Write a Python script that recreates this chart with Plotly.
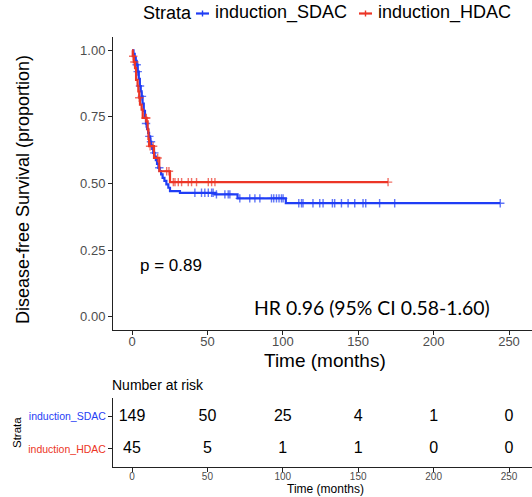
import numpy as np
import plotly.graph_objects as go

# ---------------- data ----------------
strata = ["induction_SDAC", "induction_HDAC"]
colors = ["#1F3DF5", "#EC3526"]

sdac_time = [0, 1.0, 1.8, 2.5, 3.1, 3.8, 4.5, 5.2, 5.8, 6.4, 7.0, 7.8, 8.6, 9.3, 10.0,
             10.7, 11.3, 12.0, 12.7, 13.4, 14.1, 15.0, 15.8, 16.6, 17.5, 18.4, 19.3,
             20.3, 21.5, 22.8, 24.1, 25.2, 31.8, 55.0, 70.0, 102.0]
sdac_surv = [1.0, 0.987, 0.973, 0.960, 0.946, 0.920, 0.893, 0.866, 0.846, 0.827, 0.800,
             0.773, 0.746, 0.725, 0.705, 0.690, 0.677, 0.657, 0.643, 0.630, 0.615, 0.601,
             0.588, 0.574, 0.559, 0.547, 0.534, 0.521, 0.510, 0.497, 0.484, 0.471, 0.465,
             0.459, 0.444, 0.426]
sdac_censor = [3.1, 3.8, 5.3, 6.6, 9.3, 11.5, 12.6, 14.8, 18.1,
               41.7, 46.1, 48.3, 50.6, 52.8, 53.8, 56.0, 61.6, 63.8, 64.9, 71.5, 78.1,
               81.5, 84.8, 92.5, 94.0, 95.8, 97.5, 99.1, 100.2, 110.6, 112.4, 113.4,
               120.0, 124.5, 126.7, 132.9, 134.4, 138.9, 143.3, 147.7, 153.2, 155.0,
               164.2, 174.2, 244.2]

hdac_time = [0, 0.5, 1.2, 2.0, 2.7, 3.7, 4.2, 4.8, 5.3, 6.4, 7.1, 9.7, 10.4, 10.9,
             11.3, 14.6, 18.1, 25.2]
hdac_surv = [1.0, 0.978, 0.956, 0.933, 0.889, 0.867, 0.846, 0.822, 0.796, 0.777,
             0.746, 0.733, 0.702, 0.667, 0.640, 0.596, 0.546, 0.505]
hdac_censor = [0.8, 1.6, 4.8, 9.0, 9.5, 12.0, 14.0, 17.0, 23.0, 24.5, 27.4, 28.5,
               30.7, 32.9, 37.3, 39.5, 42.8, 50.6, 52.8, 55.0, 169.8]

risk_times = [0, 50, 100, 150, 200, 250]
risk_sdac = [149, 50, 25, 4, 1, 0]
risk_hdac = [45, 5, 1, 1, 0, 0]

x_ticks = [0, 50, 100, 150, 200, 250]
y_ticks = [0.0, 0.25, 0.50, 0.75, 1.0]
y_ticklabels = ["0.00", "0.25", "0.50", "0.75", "1.00"]

legend_title = "Strata"
p_text = "p = 0.89"
hr_text = "HR 0.96 (95% CI 0.58-1.60)"

# ---------------- layout helpers ----------------
W, H = 532, 497
FONT = "Liberation Sans, Arial, sans-serif"


def px_x(p):
    return p / W


def px_y(p):
    return 1 - p / H


def build(times, surv, cens):
    times = np.asarray(times, float)
    surv = np.asarray(surv, float)
    pts = [(t, s, 0) for t, s in zip(times, surv)]
    for c in cens:
        idx = np.searchsorted(times, c, side="right") - 1
        pts.append((c, surv[idx], 1))
    pts.sort(key=lambda p: (p[0], p[2]))
    xs = [p[0] for p in pts]
    ys = [p[1] for p in pts]
    sz = [6 if p[2] else 0 for p in pts]
    return xs, ys, sz


fig = go.Figure()

for name, col, t, s, c in [
    (strata[0], colors[0], sdac_time, sdac_surv, sdac_censor),
    (strata[1], colors[1], hdac_time, hdac_surv, hdac_censor),
]:
    xs, ys, sz = build(t, s, c)
    fig.add_trace(go.Scatter(
        x=xs, y=ys, name=name, mode="lines+markers",
        line=dict(color=col, width=2.2, shape="hv"),
        marker=dict(symbol="cross-thin", size=sz, color=col,
                    line=dict(color=col, width=1.4)),
        xaxis="x", yaxis="y", hoverinfo="skip", showlegend=False,
    ))

# risk table numbers
fig.add_trace(go.Scatter(
    x=risk_times, y=[2] * len(risk_times), mode="text",
    text=[str(v) for v in risk_sdac], textfont=dict(size=16, color="black", family=FONT),
    xaxis="x2", yaxis="y2", showlegend=False, cliponaxis=False, hoverinfo="skip"))
fig.add_trace(go.Scatter(
    x=risk_times, y=[1] * len(risk_times), mode="text",
    text=[str(v) for v in risk_hdac], textfont=dict(size=16, color="black", family=FONT),
    xaxis="x2", yaxis="y2", showlegend=False, cliponaxis=False, hoverinfo="skip"))

# axis ranges from pixel geometry: 0 -> 132px, 250 -> 509px
scale = (509 - 132) / 250.0
x_left = (113 - 132) / scale
x_right = (532 - 132) / scale


def ax(**kw):
    base = dict(showline=True, linecolor="#222", linewidth=1, ticks="outside",
                ticklen=4, tickcolor="#222", tickwidth=1, showgrid=False,
                zeroline=False, automargin=False)
    base.update(kw)
    return base


fig.update_layout(
    width=W, height=H,
    margin=dict(l=0, r=0, t=0, b=0, autoexpand=False),
    paper_bgcolor="white", plot_bgcolor="white",
    font=dict(family=FONT, color="black"),
    showlegend=False,
    xaxis=ax(domain=[px_x(113), 1.0], range=[x_left, x_right], anchor="y",
             tickvals=x_ticks, ticklabelstandoff=-5,
             tickfont=dict(family=FONT, color="#4d4d4d", size=13)),
    yaxis=ax(domain=[px_y(330), px_y(37)], range=[-0.05, 1.05], anchor="x",
             tickvals=y_ticks, ticktext=y_ticklabels,
             tickfont=dict(family=FONT, color="#4d4d4d", size=13)),
    xaxis2=ax(domain=[px_x(113), 1.0], range=[x_left, x_right], anchor="y2",
              tickvals=x_ticks, ticklabelstandoff=-4,
              tickfont=dict(family=FONT, color="#4d4d4d", size=10)),
    yaxis2=ax(domain=[px_y(467), px_y(398)], range=[0.44, 2.58], anchor="x2",
              tickvals=[2, 1],
              ticktext=[f"<span style='color:{colors[0]}'>{strata[0]}</span>",
                        f"<span style='color:{colors[1]}'>{strata[1]}</span>"],
              tickfont=dict(family=FONT, size=10.5)),
)

ann = [
    dict(text="Disease-free Survival (proportion)", x=px_x(23), y=px_y(190), textangle=-90,
         font=dict(size=18)),
    dict(text="Time (months)", x=px_x(325), y=px_y(360), font=dict(size=19)),
    dict(text="Number at risk", x=px_x(111), y=px_y(385), xanchor="left", font=dict(size=14)),
    dict(text="Strata", x=px_x(17), y=px_y(433), textangle=-90, font=dict(size=11.5)),
    dict(text="Time (months)", x=px_x(325), y=px_y(489), font=dict(size=12)),
    dict(text=p_text, x=px_x(139), y=px_y(265), xanchor="left", font=dict(size=17)),
    dict(text=hr_text, x=px_x(253), y=px_y(307), xanchor="left",
         font=dict(size=19.4, family="Lato, Open Sans, sans-serif")),
    # manual legend (ggplot-style compact keys)
    dict(text=legend_title, x=px_x(142), y=px_y(13), xanchor="left", font=dict(size=18)),
    dict(text=strata[0], x=px_x(214), y=px_y(13), xanchor="left", font=dict(size=18)),
    dict(text=strata[1], x=px_x(377), y=px_y(13), xanchor="left", font=dict(size=18)),
]
for a in ann:
    a.setdefault("xanchor", "center")
    a.update(xref="paper", yref="paper", yanchor="middle", showarrow=False)
    a["font"].setdefault("family", FONT)
    a["font"].setdefault("color", "black")
    a["borderpad"] = 0

# legend keys: short line with a "+" tick
shapes = []
for col, (x0, x1) in zip(colors, [(196, 209), (359, 372)]):
    xm = (x0 + x1) / 2
    shapes.append(dict(type="line", xref="paper", yref="paper",
                       x0=px_x(x0), x1=px_x(x1), y0=px_y(13.5), y1=px_y(13.5),
                       line=dict(color=col, width=2.2)))
    shapes.append(dict(type="line", xref="paper", yref="paper",
                       x0=px_x(xm), x1=px_x(xm), y0=px_y(10.5), y1=px_y(16.5),
                       line=dict(color=col, width=1.4)))

fig.update_layout(annotations=ann, shapes=shapes)

fig.write_html("out.html")
